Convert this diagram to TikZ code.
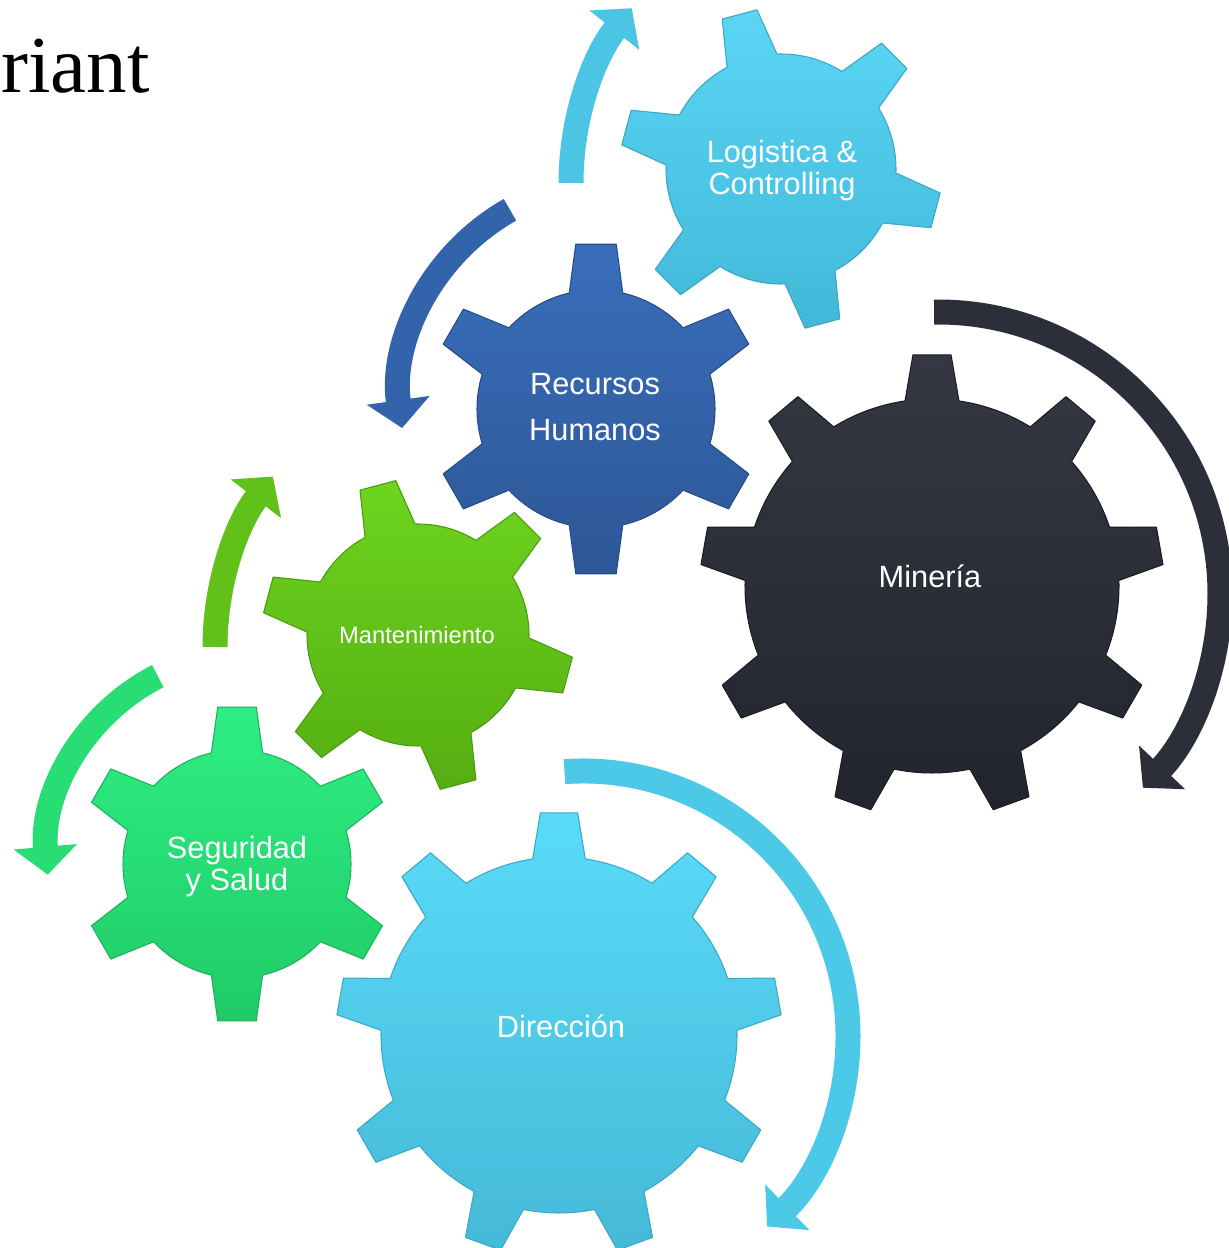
\documentclass[tikz,border=0pt]{standalone}
\usepackage{fontspec}
\setmainfont{Liberation Sans}
\newfontfamily\titlefont{Liberation Serif}
\usepackage{tikz}
\usetikzlibrary{arrows.meta,calc}

\definecolor{logitop}{HTML}{5AD6F4}
\definecolor{logibot}{HTML}{42B8D8}
\definecolor{logiedge}{HTML}{3AA6C4}
\definecolor{logiarrow}{HTML}{4CC5E5}
\definecolor{rrhhtop}{HTML}{3A6EBB}
\definecolor{rrhhbot}{HTML}{2D5797}
\definecolor{rrhhedge}{HTML}{254C85}
\definecolor{rrhharrow}{HTML}{3363AB}
\definecolor{minetop}{HTML}{353842}
\definecolor{minebot}{HTML}{22252D}
\definecolor{mineedge}{HTML}{1A1C22}
\definecolor{minearrow}{HTML}{2C2F39}
\definecolor{manttop}{HTML}{6DD41E}
\definecolor{mantbot}{HTML}{55AE12}
\definecolor{mantedge}{HTML}{4A9A10}
\definecolor{mantarrow}{HTML}{62C119}
\definecolor{segutop}{HTML}{2EEE84}
\definecolor{segubot}{HTML}{20CB66}
\definecolor{seguedge}{HTML}{1BB05A}
\definecolor{seguarrow}{HTML}{27DD74}
\definecolor{diretop}{HTML}{59DBF7}
\definecolor{direbot}{HTML}{45B9D8}
\definecolor{direedge}{HTML}{3AA8C6}
\definecolor{direarrow}{HTML}{4DC9E8}

\tikzstyle{gearlabel} = [text=white, align=center, inner sep=0pt, font=\fontsize{17.5}{18.2}\selectfont]
\tikzstyle{turnarrow} = [line width=0.5cm, line cap=butt, -{Triangle[width=1.24cm,length=0.56cm]}]
\tikzstyle{gearlogi} = [draw=logiedge, line width=0.6pt, top color=logitop, bottom color=logibot]
\tikzstyle{gearrrhh} = [draw=rrhhedge, line width=0.6pt, top color=rrhhtop, bottom color=rrhhbot]
\tikzstyle{gearmine} = [draw=mineedge, line width=0.6pt, top color=minetop, bottom color=minebot]
\tikzstyle{gearmant} = [draw=mantedge, line width=0.6pt, top color=manttop, bottom color=mantbot]
\tikzstyle{gearsegu} = [draw=seguedge, line width=0.6pt, top color=segutop, bottom color=segubot]
\tikzstyle{geardire} = [draw=direedge, line width=0.6pt, top color=diretop, bottom color=direbot]

% #1 centre, #2 teeth, #3 body radius, #4 tip radius, #5 first tooth angle,
% #6 half angle at the root, #7 half angle at the tip, #8 style
\newcommand{\gearshape}[8]{%
  \begin{scope}[shift={(#1)}]
    \pgfmathsetmacro{\gstep}{360/#2}
    \path[#8] ({#5-#6}:#3)
      \foreach \k [evaluate=\k as \ga using #5+(\k-1)*\gstep,
                   evaluate=\k as \gs using #5+(\k-1)*\gstep+#6,
                   evaluate=\k as \gb using #5+\k*\gstep-#6] in {1,...,#2} {
        -- ({\ga-#7}:#4) -- ({\ga+#7}:#4) -- ({\gs}:#3)
        arc[start angle=\gs, end angle=\gb, radius=#3]
      } -- cycle;
  \end{scope}}

\begin{document}
\begin{tikzpicture}[line join=round,x=0.02cm,y=0.02cm]
  \useasboundingbox (0,0) rectangle (1228,1248);

  \coordinate (c-logi) at (781,1079);
  \coordinate (c-rrhh) at (596,839);
  \coordinate (c-mine) at (932,662);
  \coordinate (c-mant) at (418,613);
  \coordinate (c-segu) at (237,384);
  \coordinate (c-dire) at (559,213);

  \coordinate (a-logi) at (853,1065);
  \coordinate (a-rrhh) at (616,850);
  \coordinate (a-mine) at (938,654);
  \coordinate (a-mant) at (495,601);
  \coordinate (a-segu) at (250,391);
  \coordinate (a-dire) at (583,212);

  \node[anchor=base east, inner sep=0pt, font=\titlefont\fontsize{46}{48}\selectfont] (title) at (150,1155) {riant};

  \draw[turnarrow, draw=logiarrow] ($(a-logi)+(180:282)$) arc[start angle=180, end angle=141.7, radius=282];
  \draw[turnarrow, draw=rrhharrow] ($(a-rrhh)+(119.4:216)$) arc[start angle=119.4, end angle=188, radius=216];
  \draw[turnarrow, draw=minearrow] ($(a-mine)+(90.8:282)$) arc[start angle=90.8, end angle=-43.4, radius=282];
  \draw[turnarrow, draw=mantarrow] ($(a-mant)+(180:280)$) arc[start angle=180, end angle=142.5, radius=280];
  \draw[turnarrow, draw=seguarrow] ($(a-segu)+(117:203)$) arc[start angle=117, end angle=185, radius=203];
  \draw[turnarrow, draw=direarrow] ($(a-dire)+(94:265)$) arc[start angle=94, end angle=-46, radius=265];

  \gearshape{c-logi}{6}{115}{161}{105}{13}{6.4}{gearlogi}
  \gearshape{c-rrhh}{6}{119}{166}{90}{13}{7}{gearrrhh}
  \gearshape{c-mine}{9}{187}{232}{90}{8.3}{4.7}{gearmine}
  \gearshape{c-mant}{6}{111}{156}{105}{13.5}{6.8}{gearmant}
  \gearshape{c-segu}{6}{114}{158}{90}{13}{7}{gearsegu}
  \gearshape{c-dire}{9}{178}{223}{90}{8.5}{4.8}{geardire}

  \node[gearlabel] (logi) at (782,1077) {Logistica \&\\Controlling};
  \node[gearlabel, font=\fontsize{17.5}{26}\selectfont] (rrhh) at (595,841) {Recursos\\Humanos};
  \node[gearlabel] (mine) at (930,672) {Minería};
  \node[gearlabel, font=\fontsize{13.5}{15}\selectfont] (mant) at (417,613) {Mantenimiento};
  \node[gearlabel] (segu) at (237,381) {Seguridad\\y Salud};
  \node[gearlabel] (dire) at (561,222) {Dirección};
\end{tikzpicture}
\end{document}
